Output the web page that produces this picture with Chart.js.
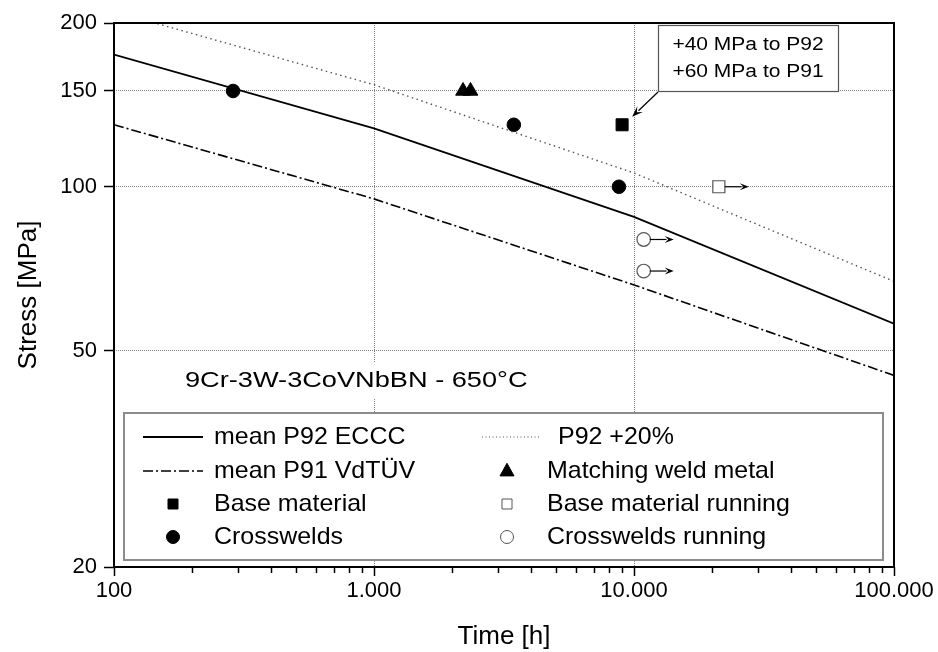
<!DOCTYPE html>
<html>
<head>
<meta charset="utf-8">
<script src="https://cdn.jsdelivr.net/npm/chart.js@4.4.1/dist/chart.umd.min.js"></script>
<style>
html, body { margin: 0; background: #fff; }
canvas { display: block; }
</style>
</head>
<body>
<canvas id="chart" width="938" height="652"></canvas>
<script>
// curves (time in h, stress in MPa)
const curveTime = [100, 1000, 10000, 100000]
const p92Mean = [175, 128, 88, 56]
const p92Plus20 = [210, 154, 106, 67]
const p91Mean = [130, 95, 66, 45]

// test results
const weldTime = [2200, 2350]
const weldStress = [150, 150]
const baseTime = [9000]
const baseStress = [130]
const baseRunTime = [21200]
const baseRunStress = [100]
const crossTime = [287, 3450, 8750]
const crossStress = [150, 130, 100]
const crossRunTime = [10900, 10900]
const crossRunStress = [80, 70]

// axes
const xTicks = [100, 1000, 10000, 100000]
const xMinor = [200, 300, 400, 500, 600, 700, 800, 900,
                2000, 3000, 4000, 5000, 6000, 7000, 8000, 9000,
                20000, 30000, 40000, 50000, 60000, 70000, 80000, 90000]
const yTicks = [20, 50, 100, 150, 200]

const noteLines = ['+40 MPa to P92', '+60 MPa to P91']
const alloyLabel = '9Cr-3W-3CoVNbBN - 650°C'

const FONT = '"Liberation Sans", Arial, Helvetica, sans-serif'

const pts = (xs, ys) => xs.map((x, i) => ({x: x, y: ys[i]}))
const fmt = v => String(v).replace(/\B(?=(\d{3})+(?!\d))/g, '.')

function sText(ctx, str, x, y, size, align, sx) {
    ctx.save()
    ctx.font = size + 'px ' + FONT
    ctx.fillStyle = '#000'
    ctx.textBaseline = 'middle'
    ctx.textAlign = align || 'left'
    ctx.translate(x, y)
    ctx.scale(sx || 1, 1)
    ctx.fillText(str, 0, 0)
    ctx.restore()
}

function arrow(ctx, x1, y1, x2, y2, head, half) {
    const a = Math.atan2(y2 - y1, x2 - x1)
    ctx.save()
    ctx.strokeStyle = '#000'
    ctx.fillStyle = '#000'
    ctx.lineWidth = 1.2
    ctx.beginPath()
    ctx.moveTo(x1, y1)
    ctx.lineTo(x2 - Math.cos(a) * head * 0.8, y2 - Math.sin(a) * head * 0.8)
    ctx.stroke()
    ctx.beginPath()
    ctx.moveTo(x2, y2)
    ctx.lineTo(x2 - Math.cos(a) * head - Math.sin(a) * half, y2 - Math.sin(a) * head + Math.cos(a) * half)
    ctx.lineTo(x2 - Math.cos(a) * head * 0.6, y2 - Math.sin(a) * head * 0.6)
    ctx.lineTo(x2 - Math.cos(a) * head + Math.sin(a) * half, y2 - Math.sin(a) * head - Math.cos(a) * half)
    ctx.closePath()
    ctx.fill()
    ctx.restore()
}

function marker(ctx, ds, x, y, size) {
    ctx.save()
    ctx.fillStyle = ds.backgroundColor
    ctx.strokeStyle = ds.borderColor
    ctx.lineWidth = 1
    ctx.beginPath()
    if (ds.pointStyle === 'rect') {
        ctx.rect(x - size / 2, y - size / 2, size, size)
    } else if (ds.pointStyle === 'triangle') {
        ctx.moveTo(x, y - size * 0.55)
        ctx.lineTo(x + size / 2, y + size * 0.35)
        ctx.lineTo(x - size / 2, y + size * 0.35)
        ctx.closePath()
    } else {
        ctx.arc(x, y, size / 2, 0, Math.PI * 2)
    }
    ctx.fill()
    ctx.stroke()
    ctx.restore()
}

// legend slots: dataset index, column, row
const legendSlots = [
    [0, 0, 0], [1, 1, 0],
    [2, 0, 1], [3, 1, 1],
    [4, 0, 2], [5, 1, 2],
    [6, 0, 3], [7, 1, 3],
]

const decor = {
    id: 'decor',
    beforeDatasetsDraw(chart) {
        const ctx = chart.ctx
        ctx.save()
        ctx.fillStyle = '#fff'
        ctx.fillRect(180, 363, 356, 35)
        ctx.restore()
        sText(ctx, alloyLabel, 185, 381, 22, 'left', 1.235)
    },
    afterDatasetsDraw(chart) {
        const ctx = chart.ctx
        const a = chart.chartArea
        const xs = chart.scales.x

        // minor ticks
        ctx.save()
        ctx.strokeStyle = '#000'
        ctx.lineWidth = 1.5
        xMinor.forEach(v => {
            const px = Math.round(xs.getPixelForValue(v)) + 0.5
            ctx.beginPath()
            ctx.moveTo(px, a.bottom)
            ctx.lineTo(px, a.bottom + 6)
            ctx.stroke()
        })
        ctx.restore()

        // running arrows
        ;[5, 7].forEach(i => {
            chart.getDatasetMeta(i).data.forEach(p => {
                arrow(ctx, p.x + 6, p.y, p.x + 30, p.y, 9, 3.5)
            })
        })

        // note box + arrow to base material point
        ctx.save()
        ctx.fillStyle = '#fff'
        ctx.fillRect(658, 25, 180, 66)
        ctx.strokeStyle = '#555'
        ctx.lineWidth = 1.2
        ctx.strokeRect(658.5, 25.5, 180, 66)
        ctx.restore()
        sText(ctx, noteLines[0], 748, 45, 17.5, 'center', 1.2)
        sText(ctx, noteLines[1], 748, 72, 17.5, 'center', 1.2)
        const sq = chart.getDatasetMeta(4).data[0]
        arrow(ctx, 658, 92, sq.x + 10, sq.y - 8, 11, 4)

        // legend
        ctx.save()
        ctx.fillStyle = '#fff'
        ctx.fillRect(123, 412, 760, 148)
        ctx.strokeStyle = '#8c8c8c'
        ctx.lineWidth = 2
        ctx.strokeRect(124, 413, 759, 147)
        ctx.restore()
        const rowY = [437, 471, 504, 537]
        legendSlots.forEach(([i, col, row]) => {
            const ds = chart.data.datasets[i]
            const y = rowY[row]
            if (ds.showLine) {
                const x0 = col ? 482 : 143
                const x1 = col ? 540 : 203
                ctx.save()
                ctx.strokeStyle = ds.borderColor
                ctx.lineWidth = col ? 1.2 : ds.borderWidth
                ctx.setLineDash(col ? [1, 2.5] : (ds.borderDash || []))
                ctx.beginPath()
                ctx.moveTo(x0, y)
                ctx.lineTo(x1, y)
                ctx.stroke()
                ctx.restore()
                sText(ctx, ds.label, col ? 558 : 214, y, 24, 'left', 1.04)
            } else {
                const mx = col ? 507 : 173
                const size = ds.pointStyle === 'circle' ? 13 : (ds.pointStyle === 'triangle' ? 14 : 10)
                marker(ctx, ds, mx, y, size)
                sText(ctx, ds.label, col ? 547 : 214, y, 24, 'left', 1.04)
            }
        })

        // frame
        ctx.save()
        ctx.strokeStyle = '#000'
        ctx.lineWidth = 2
        ctx.strokeRect(a.left, a.top, a.right - a.left, a.bottom - a.top)
        ctx.restore()

        // axis titles
        sText(ctx, 'Time [h]', (a.left + a.right) / 2, 637, 25, 'center', 1.04)
        ctx.save()
        ctx.translate(29, (a.top + a.bottom) / 2)
        ctx.rotate(-Math.PI / 2)
        sText(ctx, 'Stress [MPa]', 0, 0, 25, 'center', 1.04)
        ctx.restore()
    }
}

const gridColor = edges => c => (c.tick && edges.includes(c.tick.value)) ? 'rgba(0,0,0,0)' : '#808080'

new Chart(document.getElementById('chart'), {
    type: 'scatter',
    data: {
        datasets: [
            {label: 'mean P92 ECCC', data: pts(curveTime, p92Mean), showLine: true,
             borderColor: '#000', borderWidth: 1.8, pointRadius: 0},
            {label: 'P92 +20%', data: pts(curveTime, p92Plus20), showLine: true,
             borderColor: '#555', borderWidth: 1.4, borderDash: [1.5, 3.5], pointRadius: 0},
            {label: 'mean P91 VdTÜV', data: pts(curveTime, p91Mean), showLine: true,
             borderColor: '#000', borderWidth: 1.6, borderDash: [10, 3, 2, 3], pointRadius: 0},
            {label: 'Matching weld metal', data: pts(weldTime, weldStress), pointStyle: 'triangle',
             pointRadius: 8.5, backgroundColor: '#000', borderColor: '#000', borderWidth: 1},
            {label: 'Base material', data: pts(baseTime, baseStress), pointStyle: 'rect',
             pointRadius: 8.5, backgroundColor: '#000', borderColor: '#000', borderWidth: 1},
            {label: 'Base material running', data: pts(baseRunTime, baseRunStress), pointStyle: 'rect',
             pointRadius: 8.5, backgroundColor: '#fff', borderColor: '#555', borderWidth: 1.2},
            {label: 'Crosswelds', data: pts(crossTime, crossStress), pointStyle: 'circle',
             pointRadius: 6.8, backgroundColor: '#000', borderColor: '#000', borderWidth: 1},
            {label: 'Crosswelds running', data: pts(crossRunTime, crossRunStress), pointStyle: 'circle',
             pointRadius: 6.8, backgroundColor: '#fff', borderColor: '#555', borderWidth: 1.2},
        ]
    },
    options: {
        responsive: false,
        animation: false,
        devicePixelRatio: 1,
        layout: {padding: {top: 23, right: 44, left: 0, bottom: 0}},
        plugins: {legend: {display: false}, tooltip: {enabled: false}},
        scales: {
            x: {
                type: 'logarithmic', min: 100, max: 100000,
                afterBuildTicks: s => { s.ticks = xTicks.map(v => ({value: v})) },
                afterFit: s => { s.height = 85 },
                ticks: {font: {family: FONT, size: 22}, color: '#000', padding: 2,
                        maxRotation: 0, autoSkip: false, callback: v => fmt(v)},
                grid: {color: gridColor([100, 100000]), lineWidth: 1, tickColor: '#000',
                       tickLength: 9, tickWidth: 1.5},
                border: {display: false, dash: [1, 1]},
            },
            y: {
                type: 'logarithmic', min: 20, max: 200,
                afterBuildTicks: s => { s.ticks = yTicks.map(v => ({value: v})) },
                afterFit: s => { s.width = 114 },
                ticks: {font: {family: FONT, size: 22}, color: '#000', padding: 7,
                        autoSkip: false, callback: v => String(v)},
                grid: {color: gridColor([20, 200]), lineWidth: 1, tickColor: '#000',
                       tickLength: 10, tickWidth: 1.5},
                border: {display: false, dash: [1, 1]},
            },
        }
    },
    plugins: [decor]
})
</script>
</body>
</html>
